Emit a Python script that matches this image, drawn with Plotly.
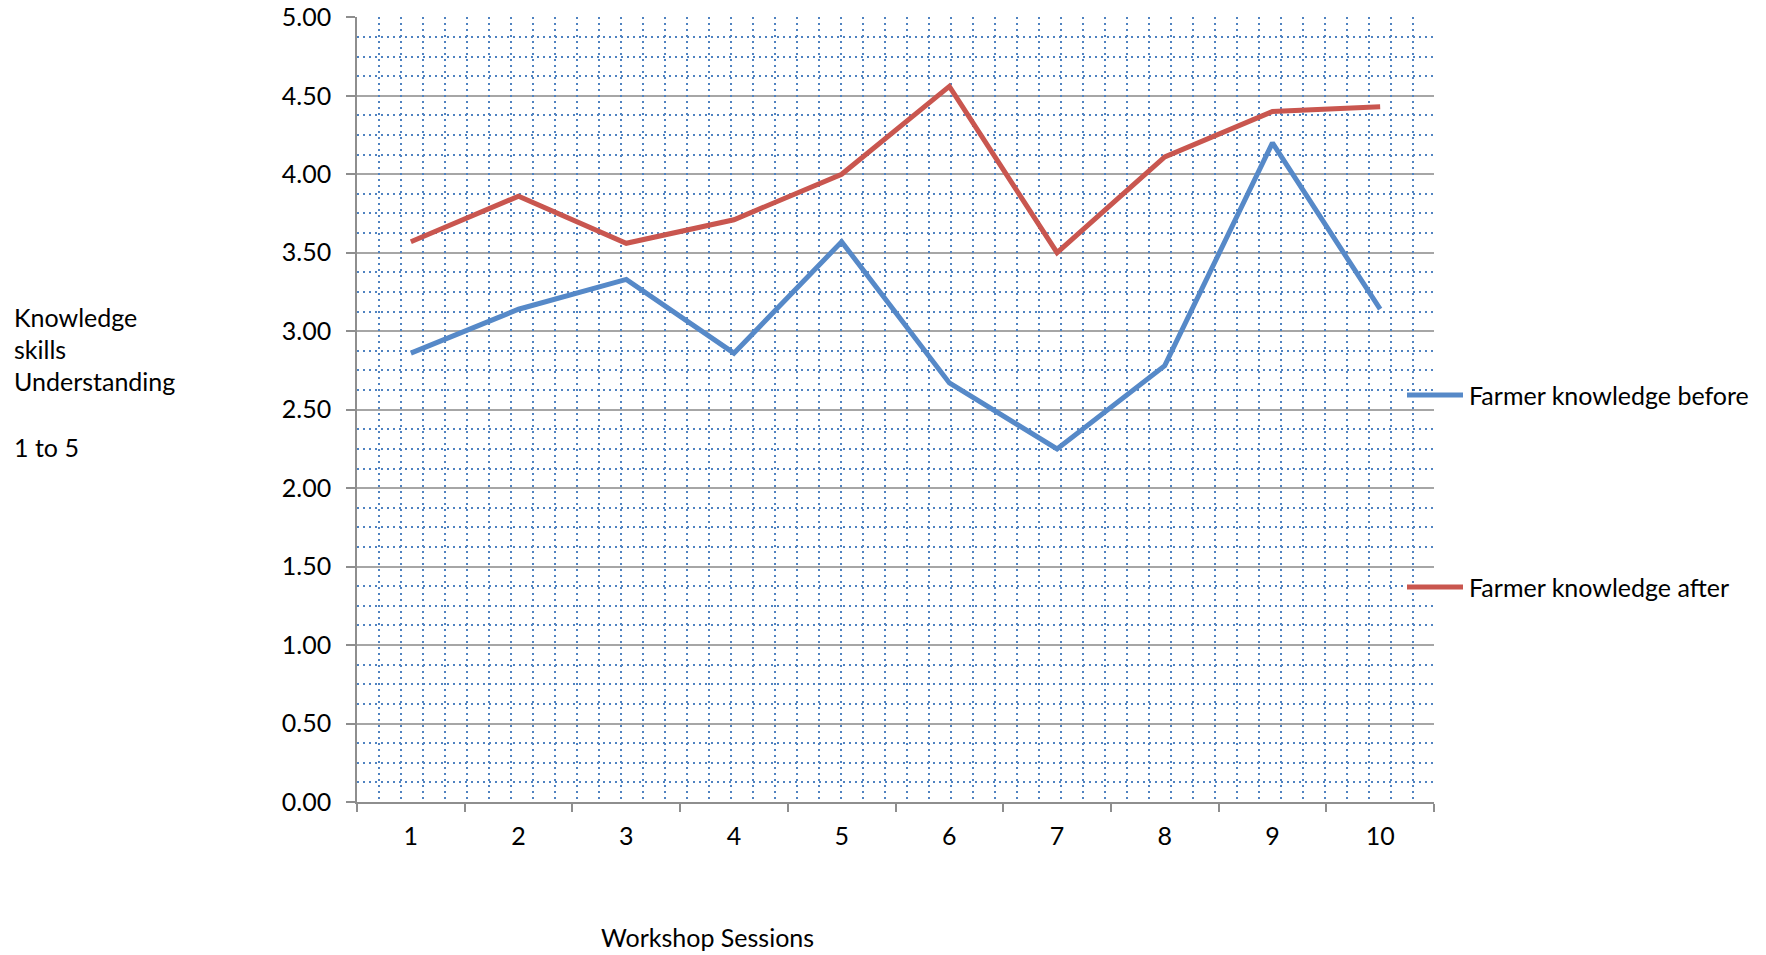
import plotly.graph_objects as go

sessions = [1, 2, 3, 4, 5, 6, 7, 8, 9, 10]
before = [2.86, 3.14, 3.33, 2.86, 3.57, 2.67, 2.25, 2.78, 4.20, 3.14]
after = [3.57, 3.86, 3.56, 3.71, 4.00, 4.56, 3.50, 4.11, 4.40, 4.43]
series_names = ["Farmer knowledge before", "Farmer knowledge after"]
series_colors = ["#5689C8", "#C9564F"]
y_title_lines = ["Knowledge", "skills", "Understanding", "1 to 5"]
x_title = "Workshop Sessions"

W, H = 1766, 955
L, R, T, B = 357, 1434, 17, 802
FONT = "Lato"
FS = 25
AXC = "#8E8E8E"
GRIDBLUE = "#4F82C0"

def px(x):
    return (x - L) / (R - L)

def py(y):
    return (B - y) / (B - T)

fig = go.Figure()
for name, vals, col in zip(series_names, [before, after], series_colors):
    fig.add_trace(go.Scatter(
        x=[str(s) for s in sessions], y=vals, name=name, mode="lines",
        line=dict(color=col, width=5), showlegend=False,
    ))
# helper trace so the overlaying grid axis is drawn
fig.add_trace(go.Scatter(x=[None], y=[None], xaxis="x2", yaxis="y",
                         showlegend=False, hoverinfo="skip", mode="lines"))

annotations = []
shapes = []
legend_y = [395, 587]
for name, col, ly in zip(series_names, series_colors, legend_y):
    shapes.append(dict(type="line", xref="paper", yref="paper",
                       x0=px(1407), x1=px(1463), y0=py(ly), y1=py(ly),
                       line=dict(color=col, width=5)))
    annotations.append(dict(text=name, xref="paper", yref="paper",
                            x=px(1467), y=py(ly), xanchor="left", yanchor="middle",
                            showarrow=False, font=dict(family=FONT, size=FS, color="black")))

for t, yy in zip(y_title_lines, [317, 349, 381, 447]):
    annotations.append(dict(text=t, xref="paper", yref="paper",
                            x=px(12), y=py(yy), xanchor="left", yanchor="middle",
                            showarrow=False, font=dict(family=FONT, size=FS, color="black")))

annotations.append(dict(text=x_title, xref="paper", yref="paper",
                        x=px(707), y=py(937), xanchor="center", yanchor="middle",
                        showarrow=False, font=dict(family=FONT, size=FS, color="black")))

fig.update_layout(
    width=W, height=H,
    margin=dict(l=L, r=W - R, t=T, b=H - B, autoexpand=False),
    paper_bgcolor="white", plot_bgcolor="white",
    font=dict(family=FONT, size=FS, color="black"),
    showlegend=False,
    annotations=annotations,
    shapes=shapes,
    xaxis=dict(
        type="category", range=[-0.5, 9.5], tickson="boundaries", ticks="outside", ticklen=8,
        tickwidth=1.5, tickcolor=AXC, showline=True, linecolor=AXC, linewidth=1.5,
        showgrid=False, ticklabelstandoff=11, automargin=False,
        tickfont=dict(family=FONT, size=FS, color="black"),
    ),
    xaxis2=dict(
        overlaying="x", anchor="y", type="linear", range=[0, (R - L) / 22.0], dtick=1, tick0=0,
        showgrid=True, gridcolor=GRIDBLUE, gridwidth=2, griddash="2px,4px",
        showticklabels=False, ticks="", showline=False, zeroline=False, automargin=False,
    ),
    yaxis=dict(
        range=[0, 5.002], dtick=0.5, tickformat=".2f", ticks="outside", ticklen=9,
        tickwidth=1.5, tickcolor=AXC, showline=True, linecolor=AXC, linewidth=1.5,
        showgrid=True, gridcolor="#A6A6A6", gridwidth=1.5, zeroline=False,
        ticklabelstandoff=10, ticklabeloverflow="allow", automargin=False,
        tickfont=dict(family=FONT, size=FS, color="black"),
        minor=dict(dtick=0.125, showgrid=True, gridcolor=GRIDBLUE, gridwidth=2,
                   griddash="2px,4px", ticks=""),
    ),
)

fig.write_html("out.html", config={"displayModeBar": False},
               post_script="document.body.style.margin='0';")
